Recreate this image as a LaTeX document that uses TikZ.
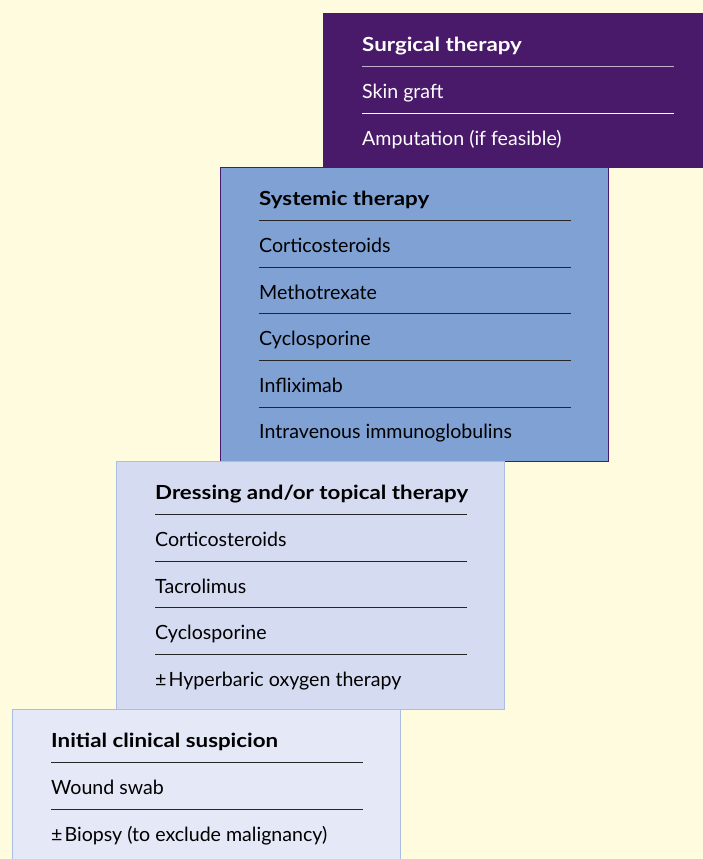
\documentclass[tikz,border=0pt]{standalone}
\usepackage{fontspec}
\setmainfont{Lato}[BoldFeatures={FakeStretch=1.15}]
\usepackage{tikz}
\usetikzlibrary{positioning}
\usepackage{xcolor}

\definecolor{cream}{RGB}{255,251,222}
\definecolor{surgpurple}{RGB}{73,26,106}
\definecolor{systblue}{RGB}{127,161,212}
\definecolor{toplav}{RGB}{213,219,240}
\definecolor{initlav}{RGB}{229,232,246}
\definecolor{edgeblue}{RGB}{170,190,228}
\definecolor{rulelav}{RGB}{190,178,206}

\begin{document}
\begin{tikzpicture}[x=1pt, y=-1pt,
    panel/.style={draw, line width=1pt, anchor=north west, inner sep=0pt},
    item/.style={anchor=base west, inner sep=0pt, font=\fontsize{19.6}{23}\selectfont},
    head/.style={item, font=\fontsize{19.4}{23}\selectfont\bfseries},
    rule/.style={line width=1pt, black!85}]

        % Background and page size
        \fill[cream] (0,0) rectangle (703,859);
        \useasboundingbox (0,0) rectangle (703,859);

        % Panels, from the top step down
        \node[panel, draw=surgpurple, fill=surgpurple, minimum width=390pt, minimum height=154pt] (surgical) at (323,13) {};
        \node[panel, draw=surgpurple, fill=systblue, minimum width=388pt, minimum height=294pt] (systemic) at (220,167) {};
        \node[panel, draw=edgeblue, fill=toplav, minimum width=388pt, minimum height=248pt] (dressing) at (116,461) {};
        \node[panel, draw=edgeblue, fill=initlav, minimum width=388pt, minimum height=170pt] (initial) at (12,709) {};

        % Surgical therapy
        \node[head, white] (surgH) at (362,51.8) {Surgical therapy};
        \node[item, white] (graft) at (362,98.4) {Skin graft};
        \node[item, white] (amput) at (362,145) {Amputation (if feasible)};
        \draw[line width=1pt, rulelav] (362,66.7) -- (674,66.7);
        \draw[line width=1pt, white] (362,113.3) -- (674,113.3);

        % Systemic therapy
        \node[head] (systH) at (259,205.8) {Systemic therapy};
        \node[item] (cortS) at (259,252.4) {Corticosteroids};
        \node[item] (metho) at (259,299) {Methotrexate};
        \node[item] (cyclS) at (259,345.6) {Cyclosporine};
        \node[item] (inflix) at (259,392.2) {Infliximab};
        \node[item] (ivig) at (259,438.8) {Intravenous immunoglobulins};
        \foreach \y in {220.7, 267.3, 313.9, 360.5, 407.1}
            \draw[rule] (259,\y) -- (571,\y);

        % Dressing and/or topical therapy
        \node[head] (dressH) at (155,499.8) {Dressing and/or topical therapy};
        \node[item] (cortT) at (155,546.4) {Corticosteroids};
        \node[item] (tacro) at (155,593) {Tacrolimus};
        \node[item] (cyclT) at (155,639.6) {Cyclosporine};
        \node[item] (hbot) at (155,686.2) {±\kern2pt{}Hyperbaric oxygen therapy};
        \foreach \y in {514.7, 561.3, 607.9, 654.5}
            \draw[rule] (155,\y) -- (467,\y);

        % Initial clinical suspicion
        \node[head] (initH) at (51,747.8) {Initial clinical suspicion};
        \node[item] (swab) at (51,794.4) {Wound swab};
        \node[item] (biopsy) at (51,841) {±\kern2pt{}Biopsy (to exclude malignancy)};
        \foreach \y in {762.7, 809.3}
            \draw[rule] (51,\y) -- (363,\y);
    \end{tikzpicture}
\end{document}
